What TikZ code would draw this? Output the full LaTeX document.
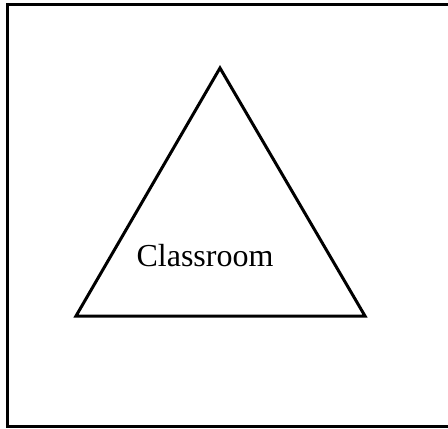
\documentclass[tikz,border=0pt]{standalone}
\usepackage{fontspec}
\setmainfont{Liberation Serif}
\begin{document}
\begin{tikzpicture}[
    x=1pt, y=-1pt,
    cadre/.style={draw=black, line width=3.4pt},
    triangle/.style={draw=black, line width=3pt, line join=miter},
    etiquette/.style={font=\fontsize{32}{38}\selectfont, anchor=base, inner sep=0pt}
  ]
    \useasboundingbox (0,0) rectangle (448,429);
    \clip (0,0) rectangle (448,429);

    % frame, right side cut off
    \draw[cadre] (470,4.5) rectangle (7.5,426.5);

    \coordinate (sommet) at (220,68);
    \coordinate (gauche) at (76,316);
    \coordinate (droite) at (365,316);
    \draw[triangle] (sommet) -- (gauche) -- (droite) -- cycle;

    \node[etiquette] (classe) at (205,266) {Classroom};
  \end{tikzpicture}
\end{document}
